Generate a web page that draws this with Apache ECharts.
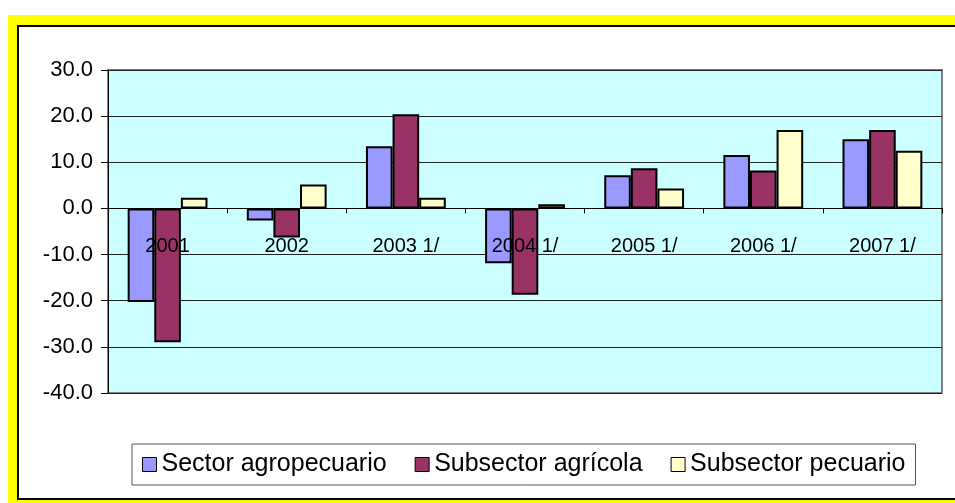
<!DOCTYPE html>
<html>
<head>
<meta charset="utf-8">
<script src="https://cdn.jsdelivr.net/npm/echarts@6/dist/echarts.min.js"></script>
<style>
  html, body { margin: 0; padding: 0; background: #fff; }
  #grafico { width: 955px; height: 503px; }
</style>
</head>
<body>
<div id="grafico"></div>
<script>
// datos (variacion %)
const anios = ['2001', '2002', '2003 1/', '2004 1/', '2005 1/', '2006 1/', '2007 1/']
const sectorAgropecuario = [-20.3, -2.6, 13.5, -11.9, 7.2, 11.6, 15.0]
const subsectorAgricola = [-29.0, -6.3, 20.4, -18.7, 8.7, 8.2, 17.0]
const subsectorPecuario = [2.3, 5.2, 2.3, 0.9, 4.3, 17.0, 12.5]

const ejeMin = -40
const ejeMax = 30

const fuente = 'Liberation Sans, Arial, sans-serif'

const gridTop = 70
const gridBottom = 110
const altoPlot = 503 - gridTop - gridBottom
// el eje de categorias va sobre el cero
const desplazamiento = -altoPlot * (0 - ejeMin) / (ejeMax - ejeMin)

let myChart = echarts.init(document.getElementById('grafico'))

function serie(nombre, datos, color) {
  return {
    name: nombre,
    type: 'bar',
    data: datos,
    barGap: '0%',
    barCategoryGap: '33%',
    itemStyle: {
      color: color,
      borderColor: '#000',
      borderWidth: 2
    }
  }
}

let option = {
  animation: false,
  backgroundColor: '#fff',
  graphic: [
    {
      type: 'rect',
      z: -10,
      shape: { x: 8, y: 15, width: 960, height: 500 },
      style: { fill: '#ffff00' }
    },
    {
      type: 'rect',
      z: -9,
      shape: { x: 18, y: 26, width: 960, height: 473 },
      style: { fill: '#fff', stroke: '#000', lineWidth: 2 }
    }
  ],
  legend: {
    left: 132,
    top: 444,
    padding: [8, 10, 8, 10],
    borderColor: '#555',
    borderWidth: 1,
    itemWidth: 14,
    itemHeight: 14,
    itemGap: 28,
    icon: 'rect',
    itemStyle: { borderColor: '#000', borderWidth: 1 },
    textStyle: { fontFamily: fuente, fontSize: 25, color: '#000' },
    data: ['Sector agropecuario', 'Subsector agrícola', 'Subsector pecuario']
  },
  grid: {
    left: 108,
    right: 13,
    top: gridTop,
    bottom: gridBottom,
    show: true,
    backgroundColor: '#ccffff',
    borderColor: '#808080',
    borderWidth: 2
  },
  xAxis: {
    type: 'category',
    data: anios,
    z: 5,
    offset: desplazamiento,
    axisLine: { onZero: false, lineStyle: { color: '#000', width: 1 } },
    axisTick: { show: true, length: 5, inside: false, lineStyle: { color: '#000' } },
    axisLabel: {
      margin: 28,
      fontFamily: fuente,
      fontSize: 20,
      color: '#000'
    }
  },
  yAxis: {
    type: 'value',
    min: ejeMin,
    max: ejeMax,
    interval: 10,
    axisLine: { show: true, lineStyle: { color: '#000', width: 1 } },
    axisTick: { show: true, length: 7, lineStyle: { color: '#000' } },
    axisLabel: {
      margin: 15,
      fontFamily: fuente,
      fontSize: 22,
      color: '#000',
      formatter: v => v.toFixed(1)
    },
    splitLine: { show: true, lineStyle: { color: '#222', width: 1 } }
  },
  series: [
    serie('Sector agropecuario', sectorAgropecuario, '#9999ff'),
    serie('Subsector agrícola', subsectorAgricola, '#993366'),
    serie('Subsector pecuario', subsectorPecuario, '#ffffcc')
  ]
}

myChart.setOption(option)
</script>
</body>
</html>
